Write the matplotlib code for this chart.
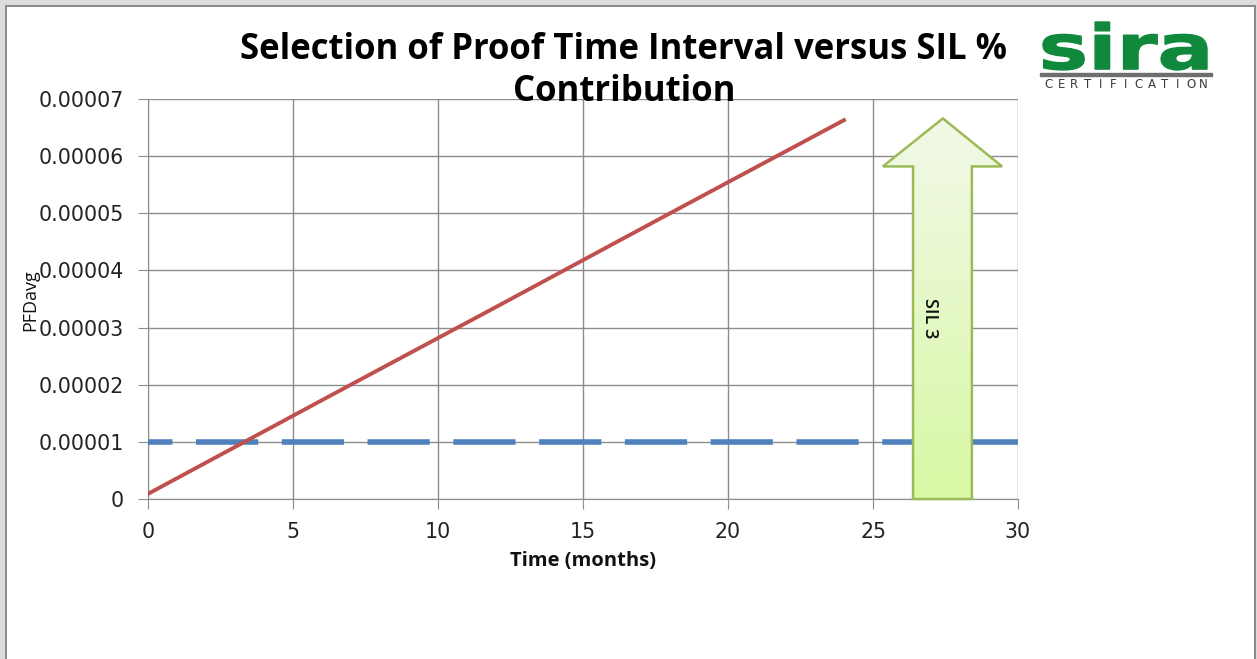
import matplotlib
matplotlib.use("Agg")
import matplotlib.pyplot as plt
import numpy as np
from matplotlib.patches import Polygon, Rectangle, PathPatch
from matplotlib.colors import LinearSegmentedColormap
from matplotlib.textpath import TextPath
from matplotlib.font_manager import FontProperties
from matplotlib.transforms import Affine2D

# ---- data ----
months = [0, 6, 12, 18, 24]
pfd_avg = [0.9e-6, 1.73e-5, 3.36e-5, 5.0e-5, 6.63e-5]
sil_limit_x = [0, 30]
sil_limit_y = [1e-5, 1e-5]
x_ticks = [0, 5, 10, 15, 20, 25, 30]
y_ticks = [0, 0.00001, 0.00002, 0.00003, 0.00004, 0.00005, 0.00006, 0.00007]
y_ticklabels = ["0", "0.00001", "0.00002", "0.00003", "0.00004", "0.00005", "0.00006", "0.00007"]
arrow_label = "SIL 3"
# arrow outline (data coords): shaft x, head x, tip, head base
arrow_shaft = (26.38, 28.41)
arrow_head = (25.34, 29.45)
arrow_tip = (27.41, 6.66e-5)
arrow_head_base = 5.82e-5

W, H = 1257, 659
fig = plt.figure(figsize=(W/100, H/100), dpi=100, facecolor="#dcdcdc")

# window frame: white panel with dark grey edges
fig.add_artist(Rectangle((5/W, 0), (1256-5)/W, (H-5)/H, transform=fig.transFigure,
                         facecolor="#8a8a8a", edgecolor="none", zorder=-10))
fig.add_artist(Rectangle((7/W, 0), (1254-7)/W, (H-7)/H, transform=fig.transFigure,
                         facecolor="white", edgecolor="none", zorder=-9))

ax = fig.add_axes([148/W, 1-499/H, 870/W, 400/H])
ax.set_facecolor("white")
ax.set_xlim(0, 30)
ax.set_ylim(0, 7e-5)
ax.set_xticks(x_ticks)
ax.set_yticks(y_ticks)
ax.set_xticklabels([str(v) for v in x_ticks])
ax.set_yticklabels(y_ticklabels)
ax.grid(True, color="#8c8c8c", linewidth=1.0)
ax.set_axisbelow(True)
for s in ["top", "right"]:
    ax.spines[s].set_visible(False)
for s in ["left", "bottom"]:
    ax.spines[s].set_color("#8c8c8c")
ax.tick_params(axis="both", direction="out", length=7.2, color="#8c8c8c",
               labelsize=14.8, labelcolor="#222222")
ax.tick_params(axis="y", pad=10)
ax.tick_params(axis="x", pad=9)
for lab in ax.get_xticklabels() + ax.get_yticklabels():
    lab.set_family("DejaVu Sans")

# threshold dashed line
lw_dash = 4.0
ax.plot(sil_limit_x, sil_limit_y, color="#4f81bd", linewidth=lw_dash,
        linestyle=(6.8, (11.2, 4.24)), dash_capstyle="butt",
        zorder=3, clip_on=False)

# red line
ax.plot(months, pfd_avg, color="#c0504d", linewidth=2.8, zorder=4)

# arrow polygon
sx0, sx1 = arrow_shaft
hx0, hx1 = arrow_head
tx, ty = arrow_tip
pts = [(sx0, 0), (sx0, arrow_head_base), (hx0, arrow_head_base), (tx, ty),
       (hx1, arrow_head_base), (sx1, arrow_head_base), (sx1, 0)]
poly = Polygon(pts, closed=True, facecolor="none", edgecolor="#9bbb59",
               linewidth=1.8, zorder=6, clip_on=False)
ax.add_patch(poly)
cmap = LinearSegmentedColormap.from_list("g", ["#d8f8a4", "#f2f9e8"])
grad = np.linspace(0, 1, 256).reshape(-1, 1)
im = ax.imshow(grad, extent=[hx0, hx1, 0, ty], origin="lower", aspect="auto",
               cmap=cmap, zorder=5, clip_on=True)
im.set_clip_path(poly)
ax.set_xlim(0, 30)
ax.set_ylim(0, 7e-5)
ax.text(26.97, 3.17e-5, arrow_label, rotation=-90, ha="center", va="center",
        fontsize=13, family="Open Sans", fontweight="semibold", color="#111111",
        zorder=7)

# labels
fig.text(583/W, 1-561/H, "Time (months)", ha="center", va="center",
         fontsize=14.5, fontweight="bold", family="Open Sans", color="#111111")
fig.text(30/W, 1-300/H, "PFDavg", rotation=90, ha="center", va="center",
         fontsize=13, family="Open Sans", color="#111111")

fig.text(623/W, 1-50/H, "Selection of Proof Time Interval versus SIL %",
         ha="center", va="center", fontsize=25, fontweight="bold", family="Open Sans")
fig.text(624/W, 1-92/H, "Contribution",
         ha="center", va="center", fontsize=25, fontweight="bold", family="Open Sans")

# logo: "sira" stretched to its box
def place_path(text, fp, x0, x1, ytop, ybot, color):
    tp = TextPath((0, 0), text, prop=fp, size=100)
    ext = tp.get_extents()
    sx = (x1 - x0) / ext.width
    sy = (ytop - ybot) / ext.height
    tr = (Affine2D().translate(-ext.x0, -ext.y0).scale(sx / W, sy / H)
          .translate(x0 / W, 1 - ytop / H) + fig.transFigure)
    fig.add_artist(PathPatch(tp, facecolor=color, edgecolor=color, linewidth=1.0,
                             transform=tr))

place_path("sira", FontProperties(family="DejaVu Sans", weight="bold"),
           1043, 1207, 70, 22, "#10893d")
fig.add_artist(Rectangle((1040/W, 1-76/H), 172/W, 3/H,
                         transform=fig.transFigure, color="#6e6e6e"))
letters = list("CERTIFICATION")
step = (1210 - 1042) / len(letters)
for i, ch in enumerate(letters):
    fig.text((1042 + step * (i + 0.5)) / W, 1-84/H, ch, ha="center", va="center",
             fontsize=8.5, family="DejaVu Sans", color="#3a3a3a")

fig.savefig("out.png", dpi=100, facecolor=fig.get_facecolor())
